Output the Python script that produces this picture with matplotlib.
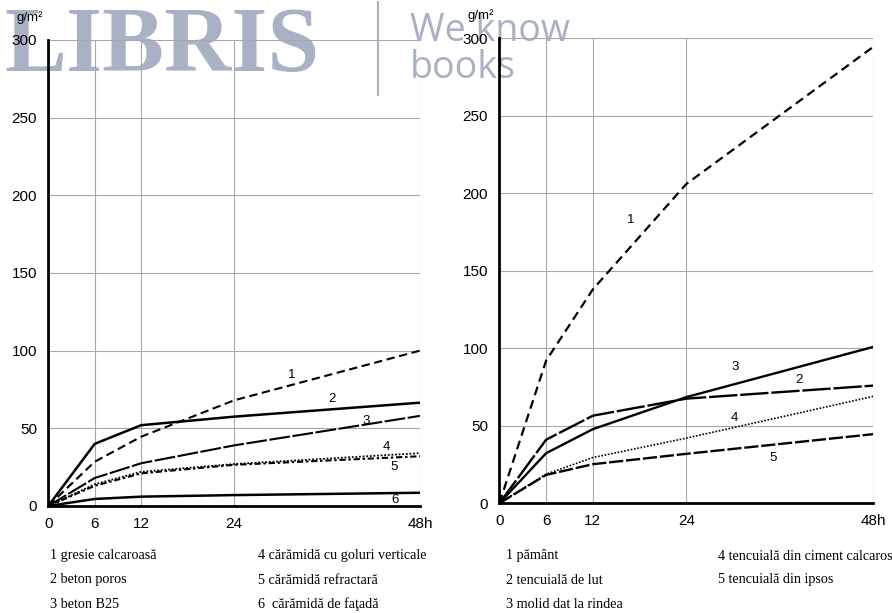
import matplotlib
matplotlib.use("Agg")
import matplotlib.pyplot as plt
from matplotlib.lines import Line2D

# ---- data ----
hours = [0, 6, 12, 24, 48]
x_tick_labels = ["0", "6", "12", "24", "48h"]
y_ticks = [0, 50, 100, 150, 200, 250, 300]

left_series_names = ["1", "2", "3", "4", "5", "6"]
left_1 = [0, 28.5, 44.6, 68, 100]
left_2 = [0, 40, 52, 57.5, 66.5]
left_3 = [0, 18, 27.5, 39, 58]
left_4 = [0, 14, 22, 27, 34]
left_5 = [0, 13, 21, 26.5, 32]
left_6 = [0, 4.5, 6, 7, 8.5]

right_series_names = ["1", "2", "3", "4", "5"]
right_1 = [0, 92, 138, 206, 294.5]
right_2 = [0, 41, 56.5, 67.5, 75.9]
right_3 = [0, 32.3, 47.8, 68.5, 100.9]
right_4 = [0, 18.8, 29.5, 42, 69]
right_5 = [0, 18.3, 25.2, 31.9, 44.6]

left_label_pos = [(31.5, 84.4), (36.6, 68.7), (41.1, 54.9), (43.7, 37.8), (44.6, 25.3), (44.8, 3.9)]
right_label_pos = [(16.8, 183), (38.4, 79.5), (30.2, 88), (30.1, 55), (35.1, 29.2)]

left_captions = [["1 gresie calcaroasă", "2 beton poros", "3 beton B25"],
                 ["4 cărămidă cu goluri verticale", "5 cărămidă refractară", "6  cărămidă de faţadă"]]
right_captions = [["1 pământ", "2 tencuială de lut", "3 molid dat la rindea"],
                  ["4 tencuială din ciment calcaros", "5 tencuială din ipsos"]]

# ---- styles ----
left_styles = [
    dict(lw=1.5, dashes=(4, 2.2)),
    dict(lw=1.8),
    dict(lw=1.5, dashes=(10, 1.2)),
    dict(lw=1.3, dashes=(1, 1)),
    dict(lw=1.5, dashes=(3, 1.3, 1.2, 1.3)),
    dict(lw=1.8),
]
right_styles = [
    dict(lw=1.6, dashes=(4, 2.4)),
    dict(lw=1.7, dashes=(12, 1.2)),
    dict(lw=1.7),
    dict(lw=1.2, dashes=(1, 1)),
    dict(lw=1.7, dashes=(6, 1.2)),
]

plt.rcParams["font.family"] = ["Liberation Sans", "DejaVu Sans"]

fig = plt.figure(figsize=(8.92, 6.13), dpi=100)
ax_l = fig.add_axes([0.0541, 0.1746, 0.4167, 0.7602])
ax_r = fig.add_axes([0.5598, 0.1790, 0.4193, 0.7586])


def style_axes(ax):
    ax.set_facecolor("none")
    ax.set_xlim(0, 48)
    ax.set_ylim(0, 300)
    ax.set_xticks(hours)
    ax.set_xticklabels(x_tick_labels, fontsize=11)
    ax.set_yticks(y_ticks)
    ax.set_yticklabels([str(v) for v in y_ticks], fontsize=11)
    ax.tick_params(length=0, pad=8)
    for s in ["top", "right"]:
        ax.spines[s].set_visible(False)
    for s in ["left", "bottom"]:
        ax.spines[s].set_linewidth(2.0)
        ax.spines[s].set_zorder(5)
    for xv in hours[1:]:
        ax.axvline(xv, color="#a8a8a8", lw=0.8, zorder=0)
    for yv in y_ticks[1:]:
        ax.axhline(yv, color="#a8a8a8", lw=0.8, zorder=0)
    ax.text(-0.05, 1.035, "g/m²", transform=ax.transAxes, fontsize=9.5,
            ha="center", va="bottom")


style_axes(ax_l)
style_axes(ax_r)

left_data = [left_1, left_2, left_3, left_4, left_5, left_6]
for name, ys, st, pos in zip(left_series_names, left_data, left_styles, left_label_pos):
    line, = ax_l.plot(hours, ys, color="black", lw=st["lw"],
                      solid_capstyle="butt", dash_capstyle="butt")
    if "dashes" in st:
        line.set_dashes(st["dashes"])
    ax_l.text(pos[0], pos[1], name, fontsize=9.5, ha="center", va="center")

right_data = [right_1, right_2, right_3, right_4, right_5]
for name, ys, st, pos in zip(right_series_names, right_data, right_styles, right_label_pos):
    line, = ax_r.plot(hours, ys, color="black", lw=st["lw"],
                      solid_capstyle="butt", dash_capstyle="butt")
    if "dashes" in st:
        line.set_dashes(st["dashes"])
    ax_r.text(pos[0], pos[1], name, fontsize=9.5, ha="center", va="center")

# ---- captions ----
cap_font = dict(family=["Liberation Serif", "DejaVu Serif"], fontsize=10.2, va="center", ha="left")
row_y = [1 - 556 / 613, 1 - 580 / 613, 1 - 604 / 613]
col_x = [50 / 892, 258 / 892, 506 / 892, 718 / 892]
for ci, col in enumerate(left_captions + right_captions):
    for ri, txt in enumerate(col):
        fig.text(col_x[ci], row_y[ri], txt, **cap_font)

# ---- watermark (behind the chart) ----
wm = "#a9b1c4"
fig.text(4 / 892, 1 - 49 / 613, "LIBRIS", family=["Liberation Serif"], fontsize=67,
         fontweight="bold", color=wm, ha="left", va="center", zorder=-1)
fig.add_artist(Line2D([378 / 892, 378 / 892], [1 - 2 / 613, 1 - 95 / 613],
                      color=wm, lw=1.5, transform=fig.transFigure, zorder=-1))
fig.text(410 / 892, 1 - 31 / 613, "We know", family=["Open Sans", "DejaVu Sans"], fontsize=27,
         color=wm, ha="left", va="center", zorder=-1)
fig.text(410 / 892, 1 - 68 / 613, "books", family=["Open Sans", "DejaVu Sans"], fontsize=27,
         color=wm, ha="left", va="center", zorder=-1)

fig.savefig("out.png", dpi=100)
